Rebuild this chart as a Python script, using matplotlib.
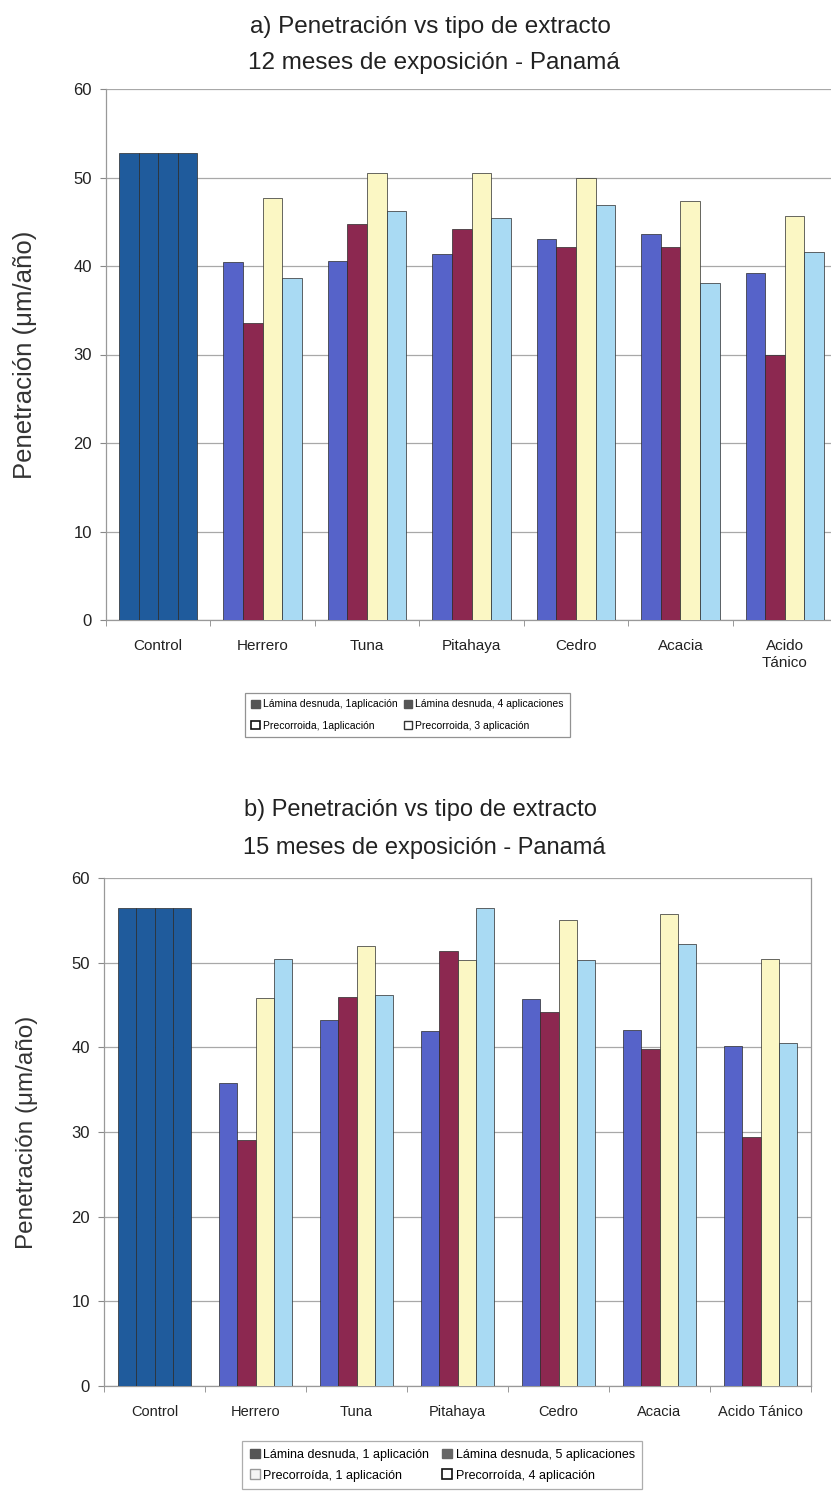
import matplotlib
matplotlib.use("Agg")
import matplotlib.pyplot as plt
from matplotlib.patches import Patch
import numpy as np

plt.rcParams['font.family'] = ['Liberation Sans', 'DejaVu Sans']

# ---- a) 12 meses de exposición ----
categorias_a = ['Control', 'Herrero', 'Tuna', 'Pitahaya', 'Cedro', 'Acacia', 'Acido\nTánico']
lamina_1_a = [52.8, 40.4, 40.6, 41.4, 43.1, 43.6, 39.2]
lamina_4_a = [52.8, 33.6, 44.7, 44.2, 42.1, 42.1, 29.9]
precor_1_a = [52.8, 47.7, 50.5, 50.5, 49.9, 47.4, 45.7]
precor_3_a = [52.8, 38.6, 46.2, 45.4, 46.9, 38.1, 41.6]
leyenda_a = ['Lámina desnuda, 1aplicación', 'Lámina desnuda, 4 aplicaciones',
             'Precorroida, 1aplicación', 'Precorroida, 3 aplicación']

# ---- b) 15 meses de exposición ----
categorias_b = ['Control', 'Herrero', 'Tuna', 'Pitahaya', 'Cedro', 'Acacia', 'Acido Tánico']
lamina_1_b = [56.5, 35.8, 43.2, 41.9, 45.7, 42.0, 40.2]
lamina_5_b = [56.5, 29.0, 45.9, 51.4, 44.2, 39.8, 29.4]
precor_1_b = [56.5, 45.8, 52.0, 50.3, 55.0, 55.8, 50.4]
precor_4_b = [56.5, 50.4, 46.2, 56.5, 50.3, 52.2, 40.5]
leyenda_b = ['Lámina desnuda, 1 aplicación', 'Lámina desnuda, 5 aplicaciones',
             'Precorroída, 1 aplicación', 'Precorroída, 4 aplicación']

colores = ['#5663c9', '#8c2850', '#fbf7c4', '#a9daf3']
color_control = '#1f5b9c'

W, H = 831, 1504
fig = plt.figure(figsize=(W / 100, H / 100), dpi=100)


def px_axes(x0, y_top, x1, y_bot):
    return fig.add_axes([x0 / W, 1 - y_bot / H, (x1 - x0) / W, (y_bot - y_top) / H])


def dibujar(ax, categorias, series, ancho_grupo, tick_fs):
    n = len(categorias)
    x = np.arange(n)
    w = ancho_grupo / 4
    for k, vals in enumerate(series):
        cols = [color_control if i == 0 else colores[k] for i in range(n)]
        ax.bar(x + (k - 1.5) * w, vals, w, color=cols, edgecolor='#2a2a2a',
               linewidth=0.5, zorder=3)
    ax.set_xlim(-0.5, n - 0.5)
    ax.set_ylim(0, 60)
    ax.set_yticks(range(0, 61, 10))
    ax.yaxis.grid(True, color='#a8a8a8', linewidth=0.9, zorder=0)
    ax.set_xticks(x)
    ax.set_xticklabels(categorias, fontsize=tick_fs, color='#222222')
    ax.set_xticks(np.arange(n + 1) - 0.5, minor=True)
    ax.tick_params(axis='x', which='major', length=0, pad=14)
    ax.tick_params(axis='x', which='minor', length=4, color='#888888', direction='out')
    ax.tick_params(axis='y', length=4, color='#888888', labelsize=12, labelcolor='#222222', pad=6)
    for s in ['left', 'bottom', 'right', 'top']:
        ax.spines[s].set_color('#999999')
        ax.spines[s].set_linewidth(0.9)
    ax.spines['top'].set_visible(False)


def por_filas(items):
    # legend fills columns first; reorder so entries read row by row
    return [items[0], items[2], items[1], items[3]]


# Panel a
ax1 = px_axes(106, 89, 837, 620)
dibujar(ax1, categorias_a, [lamina_1_a, lamina_4_a, precor_1_a, precor_3_a], 0.75, 11)
ax1.set_ylabel('Penetración (\u03bcm/año)', fontsize=18.5, color='#333333', labelpad=26)
fig.text(430 / W, 1 - 27 / H, 'a) Penetración vs tipo de extracto', ha='center', va='center',
         fontsize=17.5, color='#222222')
fig.text(434 / W, 1 - 63 / H, '12 meses de exposición - Panamá', ha='center', va='center',
         fontsize=17.5, color='#222222')

manejadores_a = [Patch(facecolor='#555555', edgecolor='#555555'),
                 Patch(facecolor='#555555', edgecolor='#555555'),
                 Patch(facecolor='white', edgecolor='#111111', linewidth=1.2),
                 Patch(facecolor='white', edgecolor='#333333', linewidth=1.0)]
leg_a = fig.legend(por_filas(manejadores_a), por_filas(leyenda_a), loc='upper left', ncol=2,
                   bbox_to_anchor=(245 / W, 1 - 693 / H), fontsize=7.5, frameon=True,
                   fancybox=False, edgecolor='#777777', handlelength=0.8, handleheight=0.8,
                   handletextpad=0.3, columnspacing=0.6, labelspacing=1.1,
                   borderpad=0.6, borderaxespad=0)
leg_a.get_frame().set_linewidth(0.9)

# Panel b
ax2 = px_axes(104, 878, 811, 1386)
dibujar(ax2, categorias_b, [lamina_1_b, lamina_5_b, precor_1_b, precor_4_b], 0.72, 10.5)
ax2.set_ylabel('Penetración (\u03bcm/año)', fontsize=17.5, color='#333333', labelpad=24)
fig.text(420 / W, 1 - 810 / H, 'b) Penetración vs tipo de extracto', ha='center', va='center',
         fontsize=17, color='#222222')
fig.text(424 / W, 1 - 848 / H, '15 meses de exposición - Panamá', ha='center', va='center',
         fontsize=17, color='#222222')

manejadores_b = [Patch(facecolor='#555555', edgecolor='#555555'),
                 Patch(facecolor='#666666', edgecolor='#666666'),
                 Patch(facecolor='#f4f4f4', edgecolor='#999999', linewidth=1.0),
                 Patch(facecolor='white', edgecolor='#111111', linewidth=1.2)]
leg_b = fig.legend(por_filas(manejadores_b), por_filas(leyenda_b), loc='upper left', ncol=2,
                   bbox_to_anchor=(242 / W, 1 - 1441 / H), fontsize=9, frameon=True,
                   fancybox=False, edgecolor='#999999', handlelength=0.8, handleheight=0.8,
                   handletextpad=0.3, columnspacing=1.0, labelspacing=0.7,
                   borderpad=0.6, borderaxespad=0)
leg_b.get_frame().set_linewidth(0.9)

fig.savefig('out.png', dpi=100, facecolor='white')
